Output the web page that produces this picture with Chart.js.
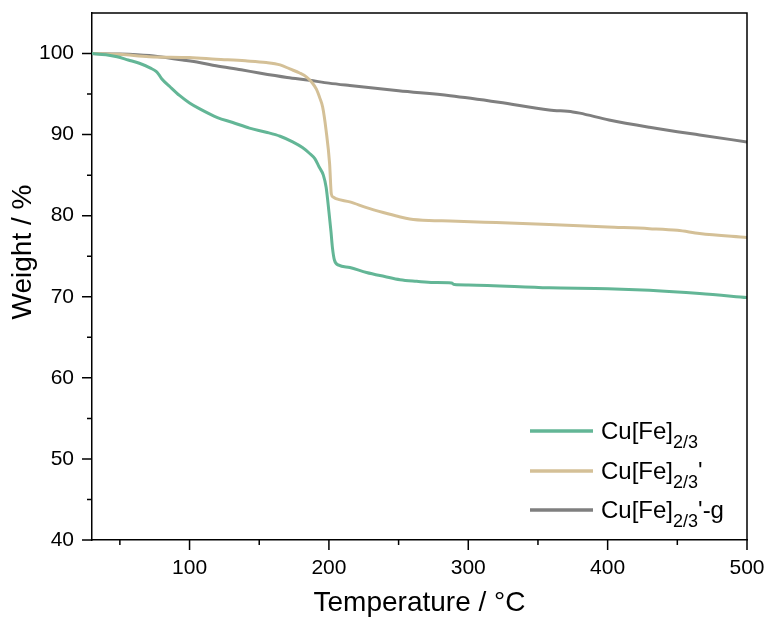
<!DOCTYPE html>
<html>
<head>
<meta charset="utf-8">
<script src="https://cdn.jsdelivr.net/npm/chart.js@4"></script>
<style>
  html, body { margin: 0; padding: 0; background: #fff; }
  #wrap { width: 770px; height: 618px; }
</style>
</head>
<body>
<div id="wrap"><canvas id="tga" width="770" height="618"></canvas></div>
<script>
  // TGA data
  const greenT = [30, 40, 48, 56, 64, 72, 76, 78, 80, 86, 93, 100, 107, 120, 131, 143, 155, 165, 174, 181, 186, 190, 193, 196, 198, 200, 201.5, 202.5, 204, 207, 215, 227, 240, 251, 263, 275, 288, 290, 300, 358, 400, 430, 466, 500];
  const greenW = [100, 99.85, 99.6, 99.2, 98.8, 98.2, 97.8, 97.4, 96.9, 95.9, 94.8, 93.9, 93.2, 92.1, 91.5, 90.8, 90.3, 89.8, 89.1, 88.4, 87.7, 87.0, 86.0, 85.0, 83.5, 80.5, 78.0, 76.1, 74.5, 73.9, 73.6, 73.0, 72.5, 72.1, 71.9, 71.75, 71.7, 71.5, 71.45, 71.1, 71.0, 70.8, 70.4, 69.9];

  const tanT = [30, 50, 71, 100, 119, 140, 155, 165, 172, 179, 184, 188, 191, 193.5, 195.5, 198, 200.5, 201.7, 203, 205, 215, 227, 239, 250, 258, 272, 287, 320, 358, 400, 430, 450, 466, 500];
  const tanW = [100, 99.9, 99.6, 99.5, 99.3, 99.1, 98.9, 98.6, 98.1, 97.6, 97.1, 96.4, 95.6, 94.5, 93.4, 90.5, 86.4, 82.7, 82.3, 82.1, 81.7, 81.0, 80.4, 79.9, 79.6, 79.4, 79.35, 79.15, 78.9, 78.6, 78.4, 78.2, 77.8, 77.3];

  const grayT = [30, 50, 71, 95, 107, 119, 137, 150, 170, 186, 200, 215, 250, 287, 322, 358, 375, 380, 401, 430, 466, 500];
  const grayW = [100, 99.95, 99.75, 99.2, 98.9, 98.5, 98.0, 97.6, 97.05, 96.7, 96.35, 96.05, 95.4, 94.8, 94.0, 93.05, 92.8, 92.65, 91.8, 90.9, 89.95, 89.1];

  const xTicks = [100, 200, 300, 400, 500];
  const xMinor = [50, 150, 250, 350, 450];
  const yTicks = [40, 50, 60, 70, 80, 90, 100];
  const yMinor = [45, 55, 65, 75, 85, 95];

  const labelBase = ['Cu[Fe]', 'Cu[Fe]', 'Cu[Fe]'];
  const labelSub = ['2/3', '2/3', '2/3'];
  const labelSuffix = ['', "'", "'-g"];
  const colors = ['#63b696', '#d4c097', '#7f7f7f'];

  const FONT = "'Liberation Sans', Arial, sans-serif";

  function pts(xs, ys) { return xs.map((x, i) => ({ x: x, y: ys[i] })); }

  // ticks, frame, axis titles and legend with subscripts
  const decor = {
    id: 'decor',
    afterDraw(chart) {
      const c = chart.ctx;
      const a = chart.chartArea;
      const xs = chart.scales.x, ys = chart.scales.y;
      c.save();
      c.strokeStyle = '#000';
      c.lineWidth = 1.5;
      // top + right frame
      c.beginPath();
      c.moveTo(a.left, a.top); c.lineTo(a.right, a.top); c.lineTo(a.right, a.bottom);
      c.stroke();
      // tick marks (outside)
      c.beginPath();
      xTicks.forEach(v => { const p = xs.getPixelForValue(v); c.moveTo(p, a.bottom); c.lineTo(p, a.bottom + 10); });
      xMinor.forEach(v => { const p = xs.getPixelForValue(v); c.moveTo(p, a.bottom); c.lineTo(p, a.bottom + 5); });
      yTicks.forEach(v => { const p = ys.getPixelForValue(v); c.moveTo(a.left, p); c.lineTo(a.left - 10, p); });
      yMinor.forEach(v => { const p = ys.getPixelForValue(v); c.moveTo(a.left, p); c.lineTo(a.left - 5, p); });
      c.stroke();

      // axis titles
      c.fillStyle = '#000';
      c.font = '28px ' + FONT;
      c.textAlign = 'center';
      c.textBaseline = 'middle';
      c.fillText('Temperature / °C', (a.left + a.right) / 2, 603);
      c.save();
      c.translate(23, 252);
      c.rotate(-Math.PI / 2);
      c.fillText('Weight / %', 0, 0);
      c.restore();

      // legend
      const rows = [431, 471, 510];
      c.textAlign = 'left';
      c.textBaseline = 'alphabetic';
      rows.forEach((y, i) => {
        c.strokeStyle = colors[i];
        c.lineWidth = 3.5;
        c.beginPath(); c.moveTo(530, y); c.lineTo(593, y); c.stroke();
        let x = 601;
        c.fillStyle = '#000';
        c.font = '24px ' + FONT;
        c.fillText(labelBase[i], x, y + 8);
        x += c.measureText(labelBase[i]).width;
        c.font = '18px ' + FONT;
        c.fillText(labelSub[i], x, y + 17);
        x += c.measureText(labelSub[i]).width;
        c.font = '24px ' + FONT;
        c.fillText(labelSuffix[i], x, y + 8);
      });
      c.restore();
    }
  };

  const ds = (label, data, color) => ({
    label: label,
    data: data,
    borderColor: color,
    backgroundColor: color,
    borderWidth: 3,
    pointRadius: 0,
    cubicInterpolationMode: 'monotone',
    fill: false
  });

  new Chart(document.getElementById('tga'), {
    type: 'line',
    data: {
      datasets: [
        ds("Cu[Fe]2/3", pts(greenT, greenW), colors[0]),
        ds("Cu[Fe]2/3'", pts(tanT, tanW), colors[1]),
        ds("Cu[Fe]2/3'-g", pts(grayT, grayW), colors[2])
      ]
    },
    options: {
      responsive: false,
      animation: false,
      layout: { padding: { top: 13, right: 23, left: 0, bottom: 0 } },
      plugins: { legend: { display: false }, tooltip: { enabled: false } },
      scales: {
        x: {
          type: 'linear',
          min: 30, max: 500,
          afterBuildTicks: s => { s.ticks = xTicks.map(v => ({ value: v })); },
          afterFit: s => { s.height = 78; s.paddingLeft = 0; s.paddingRight = 0; },
          grid: { display: true, drawOnChartArea: false, drawTicks: true, tickLength: 10, color: 'rgba(0,0,0,0)' },
          border: { display: true, color: '#000', width: 1.5 },
          ticks: { color: '#000', font: { family: FONT, size: 21 }, padding: 6, maxRotation: 0 }
        },
        y: {
          min: 40, max: 105,
          afterBuildTicks: s => { s.ticks = yTicks.map(v => ({ value: v })); },
          afterFit: s => { s.width = 92; s.paddingTop = 0; s.paddingBottom = 0; },
          grid: { display: true, drawOnChartArea: false, drawTicks: true, tickLength: 10, color: 'rgba(0,0,0,0)' },
          border: { display: true, color: '#000', width: 1.5 },
          ticks: { color: '#000', font: { family: FONT, size: 21 }, padding: 8 }
        }
      }
    },
    plugins: [decor]
  });
</script>
</body>
</html>
